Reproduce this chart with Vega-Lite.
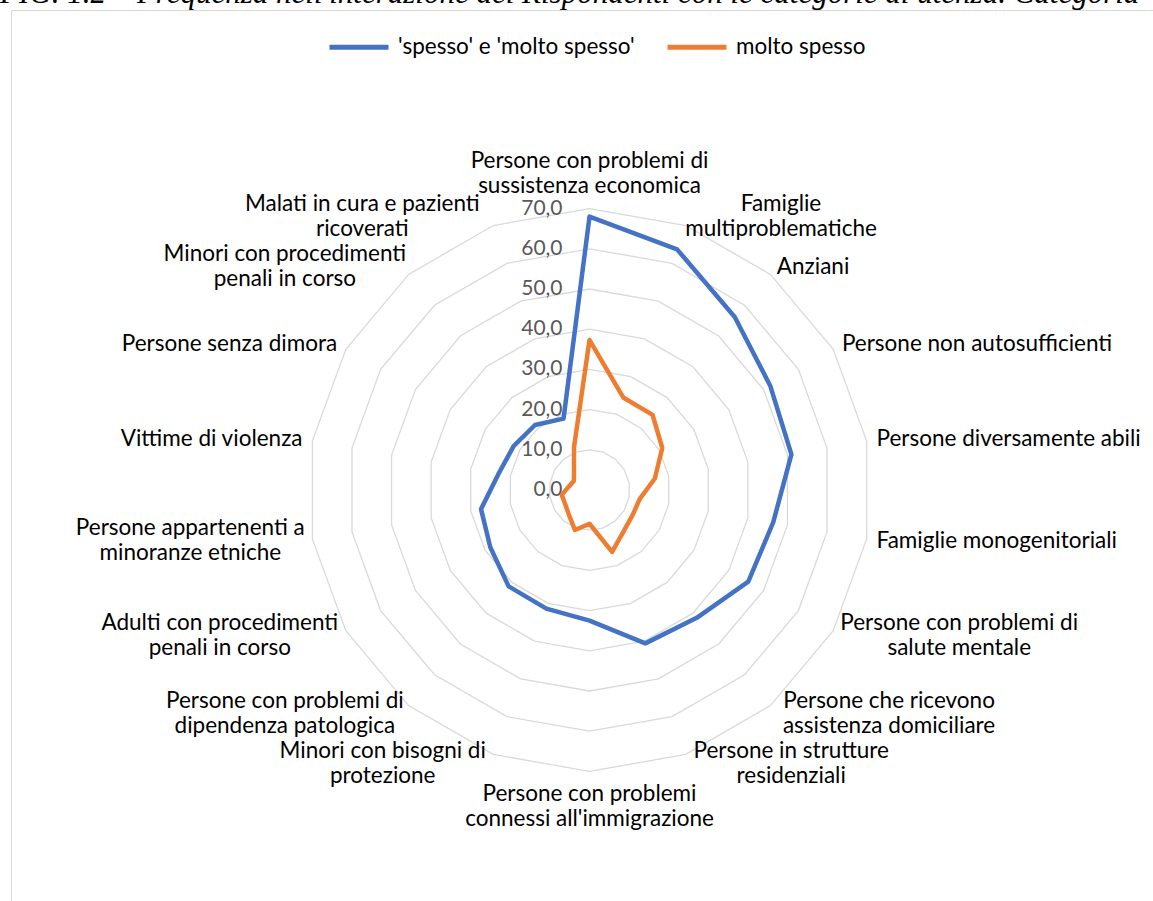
{
  "$schema": "https://vega.github.io/schema/vega-lite/v6.json",
  "width": 1142,
  "height": 891,
  "autosize": {"type": "none"},
  "padding": {"left": 11, "top": 10, "right": 0, "bottom": 0},
  "background": "white",
  "config": {
    "view": {"stroke": "#d9d9d9", "strokeWidth": 1},
    "font": "Lato",
    "locale": {"number": {"decimal": ",", "thousands": ".", "grouping": [3], "currency": ["€", ""]}}
  },
  "title": {
    "text": "FIG. 1.2 – Frequenza nell'interazione dei Rispondenti con le categorie di utenza. Categoria",
    "anchor": "start",
    "frame": "group",
    "orient": "top",
    "offset": 0,
    "dy": 24,
    "dx": -11,
    "baseline": "alphabetic",
    "font": "Liberation Serif",
    "fontStyle": "italic",
    "fontWeight": "normal",
    "fontSize": 31,
    "color": "#000000"
  },
  "datasets": {
    "categorie": [
      {"ordine": 0, "etichetta": ["Persone con problemi di", "sussistenza economica"]},
      {"ordine": 1, "etichetta": ["Famiglie", "multiproblematiche"]},
      {"ordine": 2, "etichetta": ["Anziani"]},
      {"ordine": 3, "etichetta": ["Persone non autosufficienti"]},
      {"ordine": 4, "etichetta": ["Persone diversamente abili"]},
      {"ordine": 5, "etichetta": ["Famiglie monogenitoriali"]},
      {"ordine": 6, "etichetta": ["Persone con problemi di", "salute mentale"]},
      {"ordine": 7, "etichetta": ["Persone che ricevono", "assistenza domiciliare"]},
      {"ordine": 8, "etichetta": ["Persone in strutture", "residenziali"]},
      {"ordine": 9, "etichetta": ["Persone con problemi", "connessi all'immigrazione"]},
      {"ordine": 10, "etichetta": ["Minori con bisogni di", "protezione"]},
      {"ordine": 11, "etichetta": ["Persone con problemi di", "dipendenza patologica"]},
      {"ordine": 12, "etichetta": ["Adulti con procedimenti", "penali in corso"]},
      {"ordine": 13, "etichetta": ["Persone appartenenti a", "minoranze etniche"]},
      {"ordine": 14, "etichetta": ["Vittime di violenza"]},
      {"ordine": 15, "etichetta": ["Persone senza dimora"]},
      {"ordine": 16, "etichetta": ["Minori con procedimenti", "penali in corso"]},
      {"ordine": 17, "etichetta": ["Malati in cura e pazienti", "ricoverati"]}
    ],
    "livelli": [
      {"livello": 0}, {"livello": 10}, {"livello": 20}, {"livello": 30},
      {"livello": 40}, {"livello": 50}, {"livello": 60}, {"livello": 70}
    ],
    "valori": [
      {"ordine": 0, "categoria": "Persone con problemi di sussistenza economica", "serie": "'spesso' e 'molto spesso'", "valore": 68.0},
      {"ordine": 1, "categoria": "Famiglie multiproblematiche", "serie": "'spesso' e 'molto spesso'", "valore": 63.7},
      {"ordine": 2, "categoria": "Anziani", "serie": "'spesso' e 'molto spesso'", "valore": 56.2},
      {"ordine": 3, "categoria": "Persone non autosufficienti", "serie": "'spesso' e 'molto spesso'", "valore": 51.9},
      {"ordine": 4, "categoria": "Persone diversamente abili", "serie": "'spesso' e 'molto spesso'", "valore": 51.0},
      {"ordine": 5, "categoria": "Famiglie monogenitoriali", "serie": "'spesso' e 'molto spesso'", "valore": 46.4},
      {"ordine": 6, "categoria": "Persone con problemi di salute mentale", "serie": "'spesso' e 'molto spesso'", "valore": 45.6},
      {"ordine": 7, "categoria": "Persone che ricevono assistenza domiciliare", "serie": "'spesso' e 'molto spesso'", "valore": 41.5},
      {"ordine": 8, "categoria": "Persone in strutture residenziali", "serie": "'spesso' e 'molto spesso'", "valore": 40.6},
      {"ordine": 9, "categoria": "Persone con problemi connessi all'immigrazione", "serie": "'spesso' e 'molto spesso'", "valore": 32.5},
      {"ordine": 10, "categoria": "Minori con bisogni di protezione", "serie": "'spesso' e 'molto spesso'", "valore": 31.4},
      {"ordine": 11, "categoria": "Persone con problemi di dipendenza patologica", "serie": "'spesso' e 'molto spesso'", "valore": 31.3},
      {"ordine": 12, "categoria": "Adulti con procedimenti penali in corso", "serie": "'spesso' e 'molto spesso'", "valore": 28.5},
      {"ordine": 13, "categoria": "Persone appartenenti a minoranze etniche", "serie": "'spesso' e 'molto spesso'", "valore": 27.4},
      {"ordine": 14, "categoria": "Vittime di violenza", "serie": "'spesso' e 'molto spesso'", "valore": 23.0},
      {"ordine": 15, "categoria": "Persone senza dimora", "serie": "'spesso' e 'molto spesso'", "valore": 21.8},
      {"ordine": 16, "categoria": "Minori con procedimenti penali in corso", "serie": "'spesso' e 'molto spesso'", "valore": 21.1},
      {"ordine": 17, "categoria": "Malati in cura e pazienti ricoverati", "serie": "'spesso' e 'molto spesso'", "valore": 18.9},
      {"ordine": 0, "categoria": "Persone con problemi di sussistenza economica", "serie": "molto spesso", "valore": 37.3},
      {"ordine": 1, "categoria": "Famiglie multiproblematiche", "serie": "molto spesso", "valore": 24.5},
      {"ordine": 2, "categoria": "Anziani", "serie": "molto spesso", "valore": 24.4},
      {"ordine": 3, "categoria": "Persone non autosufficienti", "serie": "molto spesso", "valore": 20.9},
      {"ordine": 4, "categoria": "Persone diversamente abili", "serie": "molto spesso", "valore": 16.5},
      {"ordine": 5, "categoria": "Famiglie monogenitoriali", "serie": "molto spesso", "valore": 12.7},
      {"ordine": 6, "categoria": "Persone con problemi di salute mentale", "serie": "molto spesso", "valore": 12.4},
      {"ordine": 7, "categoria": "Persone che ricevono assistenza domiciliare", "serie": "molto spesso", "valore": 13.3},
      {"ordine": 8, "categoria": "Persone in strutture residenziali", "serie": "molto spesso", "valore": 16.4},
      {"ordine": 9, "categoria": "Persone con problemi connessi all'immigrazione", "serie": "molto spesso", "valore": 8.4},
      {"ordine": 10, "categoria": "Minori con bisogni di protezione", "serie": "molto spesso", "valore": 10.6},
      {"ordine": 11, "categoria": "Persone con problemi di dipendenza patologica", "serie": "molto spesso", "valore": 8.0},
      {"ordine": 12, "categoria": "Adulti con procedimenti penali in corso", "serie": "molto spesso", "valore": 7.0},
      {"ordine": 13, "categoria": "Persone appartenenti a minoranze etniche", "serie": "molto spesso", "valore": 7.0},
      {"ordine": 14, "categoria": "Vittime di violenza", "serie": "molto spesso", "valore": 5.2},
      {"ordine": 15, "categoria": "Persone senza dimora", "serie": "molto spesso", "valore": 4.5},
      {"ordine": 16, "categoria": "Minori con procedimenti penali in corso", "serie": "molto spesso", "valore": 6.0},
      {"ordine": 17, "categoria": "Malati in cura e pazienti ricoverati", "serie": "molto spesso", "valore": 11.3}
    ]
  },
  "layer": [
    {
      "data": {"name": "categorie"},
      "transform": [
        {"calculate": "[10, 20, 30, 40, 50, 60, 70]", "as": "livello"},
        {"flatten": ["livello"]},
        {"calculate": "datum.livello * sin(PI * datum.ordine / 9)", "as": "px"},
        {"calculate": "datum.livello * cos(PI * datum.ordine / 9)", "as": "py"}
      ],
      "mark": {"type": "line", "interpolate": "linear-closed", "stroke": "#d9d9d9", "strokeWidth": 1.3},
      "encoding": {
        "x": {"field": "px", "type": "quantitative", "scale": {"domain": [-143.91, 140.17], "nice": false, "zero": false}, "axis": null},
        "y": {"field": "py", "type": "quantitative", "scale": {"domain": [-102.24, 119.4], "nice": false, "zero": false}, "axis": null},
        "detail": {"field": "livello"},
        "order": {"field": "ordine"}
      }
    },
    {
      "data": {"name": "livelli"},
      "mark": {"type": "text", "align": "right", "baseline": "middle", "dx": -27, "fontSize": 21, "font": "Lato", "color": "#595959"},
      "encoding": {
        "x": {"datum": 0, "type": "quantitative", "scale": {"domain": [-143.91, 140.17], "nice": false, "zero": false}, "axis": null},
        "y": {"field": "livello", "type": "quantitative", "scale": {"domain": [-102.24, 119.4], "nice": false, "zero": false}, "axis": null},
        "text": {"field": "livello", "type": "quantitative", "format": ".1f"}
      }
    },
    {
      "data": {"name": "valori"},
      "transform": [
        {"calculate": "datum.valore * sin(PI * datum.ordine / 9)", "as": "px"},
        {"calculate": "datum.valore * cos(PI * datum.ordine / 9)", "as": "py"}
      ],
      "mark": {"type": "line", "interpolate": "linear-closed", "strokeWidth": 4.5, "strokeJoin": "round", "strokeCap": "round"},
      "encoding": {
        "x": {"field": "px", "type": "quantitative", "scale": {"domain": [-143.91, 140.17], "nice": false, "zero": false}, "axis": null},
        "y": {"field": "py", "type": "quantitative", "scale": {"domain": [-102.24, 119.4], "nice": false, "zero": false}, "axis": null},
        "color": {
          "field": "serie",
          "type": "nominal",
          "scale": {"domain": ["'spesso' e 'molto spesso'", "molto spesso"], "range": ["#4472C4", "#ED7D31"]},
          "legend": {
            "orient": "none",
            "legendX": 316,
            "legendY": 5,
            "direction": "horizontal",
            "title": null,
            "symbolType": "stroke",
            "symbolStrokeWidth": 5,
            "symbolSize": 3481,
            "labelFontSize": 22.5,
            "labelFont": "Lato",
            "labelColor": "#000000",
            "labelOffset": 7,
            "columnPadding": 22,
            "labelLimit": 400
          }
        },
        "order": {"field": "ordine"}
      }
    },
    {
      "data": {"name": "categorie"},
      "transform": [
        {"filter": "length(datum.etichetta) == 1 && sin(PI * datum.ordine / 9) > 0.1"},
        {"calculate": "72.5 * sin(PI * datum.ordine / 9)", "as": "px"},
        {"calculate": "72.5 * cos(PI * datum.ordine / 9)", "as": "py"}
      ],
      "mark": {"type": "text", "align": "left", "baseline": "middle", "fontSize": 22.5, "font": "Lato", "lineHeight": 25, "color": "#000000"},
      "encoding": {
        "x": {"field": "px", "type": "quantitative", "scale": {"domain": [-143.91, 140.17], "nice": false, "zero": false}, "axis": null},
        "y": {"field": "py", "type": "quantitative", "scale": {"domain": [-102.24, 119.4], "nice": false, "zero": false}, "axis": null},
        "text": {"field": "etichetta"}
      }
    },
    {
      "data": {"name": "categorie"},
      "transform": [
        {"filter": "length(datum.etichetta) == 1 && sin(PI * datum.ordine / 9) < -0.1"},
        {"calculate": "72.5 * sin(PI * datum.ordine / 9)", "as": "px"},
        {"calculate": "72.5 * cos(PI * datum.ordine / 9)", "as": "py"}
      ],
      "mark": {"type": "text", "align": "right", "baseline": "middle", "fontSize": 22.5, "font": "Lato", "lineHeight": 25, "color": "#000000"},
      "encoding": {
        "x": {"field": "px", "type": "quantitative", "scale": {"domain": [-143.91, 140.17], "nice": false, "zero": false}, "axis": null},
        "y": {"field": "py", "type": "quantitative", "scale": {"domain": [-102.24, 119.4], "nice": false, "zero": false}, "axis": null},
        "text": {"field": "etichetta"}
      }
    },
    {
      "data": {"name": "categorie"},
      "transform": [
        {"filter": "length(datum.etichetta) > 1"},
        {"calculate": "PI * datum.ordine / 9", "as": "ang"},
        {"calculate": "max(length(datum.etichetta[0]), length(datum.etichetta[1]))", "as": "car"},
        {"calculate": "sin(datum.ang) > 0.1 ? 1 : (sin(datum.ang) < -0.1 ? -1 : 0)", "as": "lato"},
        {"calculate": "72.5 * sin(datum.ang) + datum.lato * datum.car * 10.2 / 2 / 4.02", "as": "px"},
        {"calculate": "72.5 * cos(datum.ang) + (datum.lato == 0 ? cos(datum.ang) * length(datum.etichetta) * 25 / 2 / 4.02 : 0) + (length(datum.etichetta) - 1) * 12.5 / 4.02", "as": "py"}
      ],
      "mark": {"type": "text", "align": "center", "baseline": "middle", "fontSize": 22.5, "font": "Lato", "lineHeight": 25, "color": "#000000"},
      "encoding": {
        "x": {"field": "px", "type": "quantitative", "scale": {"domain": [-143.91, 140.17], "nice": false, "zero": false}, "axis": null},
        "y": {"field": "py", "type": "quantitative", "scale": {"domain": [-102.24, 119.4], "nice": false, "zero": false}, "axis": null},
        "text": {"field": "etichetta"}
      }
    }
  ]
}
